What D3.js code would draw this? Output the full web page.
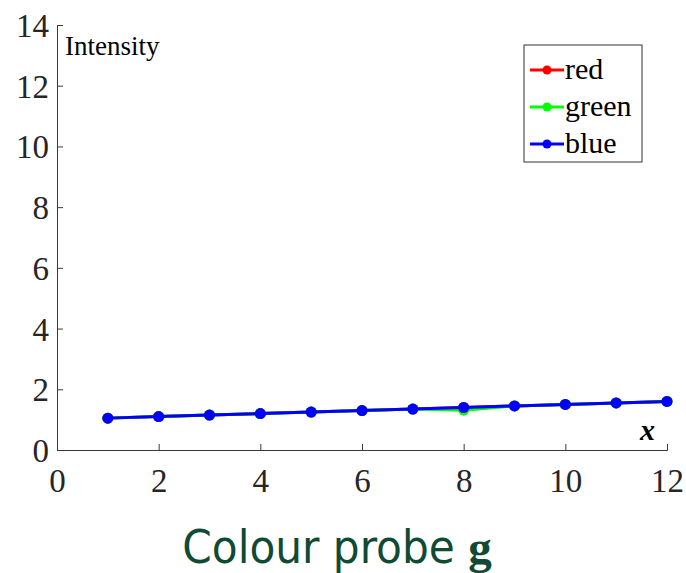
<!DOCTYPE html>
<html>
<head>
<meta charset="utf-8">
<script src="https://cdn.jsdelivr.net/npm/d3@7"></script>
<style>
body { margin: 0; background: #fff; }
</style>
</head>
<body>
<svg width="686" height="573"></svg>
<script>
const xs = [1, 2, 3, 4, 5, 6, 7, 8, 9, 10, 11, 12];
const redVals = [1.05, 1.1, 1.15, 1.2, 1.25, 1.3, 1.35, 1.4, 1.45, 1.5, 1.55, 1.6];
const greenVals = [1.05, 1.1, 1.15, 1.2, 1.25, 1.3, 1.35, 1.31, 1.45, 1.5, 1.55, 1.6];
const blueVals = [1.05, 1.1, 1.15, 1.2, 1.25, 1.3, 1.35, 1.4, 1.45, 1.5, 1.55, 1.6];
const xTicks = [0, 2, 4, 6, 8, 10, 12];
const yTicks = [0, 2, 4, 6, 8, 10, 12, 14];
const seriesNames = ['red', 'green', 'blue'];
const seriesColors = ['#ff0000', '#00ff00', '#0000ff'];

const svg = d3.select('svg');
const serif = '"Liberation Serif"';

const x = d3.scaleLinear().domain([0, 12]).range([57, 667]);
const y = d3.scaleLinear().domain([0, 14]).range([450, 25]);

// axes
const xAxis = svg.append('g')
    .attr('transform', `translate(0, ${y(0)})`)
    .call(d3.axisBottom(x).tickValues(xTicks).tickSizeInner(-6).tickSizeOuter(-6).tickPadding(14));
const yAxis = svg.append('g')
    .attr('transform', `translate(${x(0)}, 0)`)
    .call(d3.axisLeft(y).tickValues(yTicks).tickSizeInner(-6).tickSizeOuter(-6).tickPadding(8));

[xAxis, yAxis].forEach(a => {
    a.selectAll('path, line').attr('stroke', '#3a3a3a').attr('stroke-width', 1);
    a.selectAll('text')
        .style('font-family', serif)
        .style('font-size', '33px')
        .attr('fill', '#262626');
});
xAxis.selectAll('text').attr('dy', '0.85em');
yAxis.selectAll('text').attr('dy', '0.35em');

// lines
const line = d3.line().x((d, i) => x(xs[i])).y(d => y(d));
const allVals = [redVals, greenVals, blueVals];
allVals.forEach((vals, k) => {
    svg.append('path')
        .datum(vals)
        .attr('d', line)
        .attr('fill', 'none')
        .attr('stroke', seriesColors[k])
        .attr('stroke-width', 3);
    svg.append('g').selectAll('circle')
        .data(vals)
        .join('circle')
        .attr('cx', (d, i) => x(xs[i]))
        .attr('cy', d => y(d))
        .attr('r', 5.5)
        .attr('fill', seriesColors[k]);
});

// labels
svg.append('text')
    .attr('x', 65).attr('y', 55)
    .style('font-family', serif)
    .style('font-size', '27px')
    .attr('fill', '#000')
    .text('Intensity');

svg.append('text')
    .attr('x', 640).attr('y', 440)
    .style('font-family', serif)
    .style('font-size', '30px')
    .style('font-style', 'italic')
    .style('font-weight', 'bold')
    .text('x');

// legend
const legend = svg.append('g');
legend.append('rect')
    .attr('x', 524).attr('y', 45)
    .attr('width', 118).attr('height', 117)
    .attr('fill', '#fff')
    .attr('stroke', '#333').attr('stroke-width', 1);
seriesNames.forEach((name, k) => {
    const ly = 70 + k * 37;
    legend.append('line')
        .attr('x1', 530).attr('x2', 564)
        .attr('y1', ly).attr('y2', ly)
        .attr('stroke', seriesColors[k]).attr('stroke-width', 3);
    legend.append('circle')
        .attr('cx', 547).attr('cy', ly).attr('r', 4.5)
        .attr('fill', seriesColors[k]);
    legend.append('text')
        .attr('x', 565).attr('y', ly + 9)
        .style('font-family', serif)
        .style('font-size', '30px')
        .text(name);
});

// title below
const title = svg.append('text')
    .attr('x', 337).attr('y', 563)
    .attr('text-anchor', 'middle')
    .style('font-size', '47px')
    .attr('fill', '#0f4a35');
title.append('tspan')
    .style('font-family', '"DejaVu Sans Condensed"')
    .text('Colour probe ');
title.append('tspan')
    .style('font-family', serif)
    .style('font-weight', 'bold')
    .text('g');
</script>
</body>
</html>
